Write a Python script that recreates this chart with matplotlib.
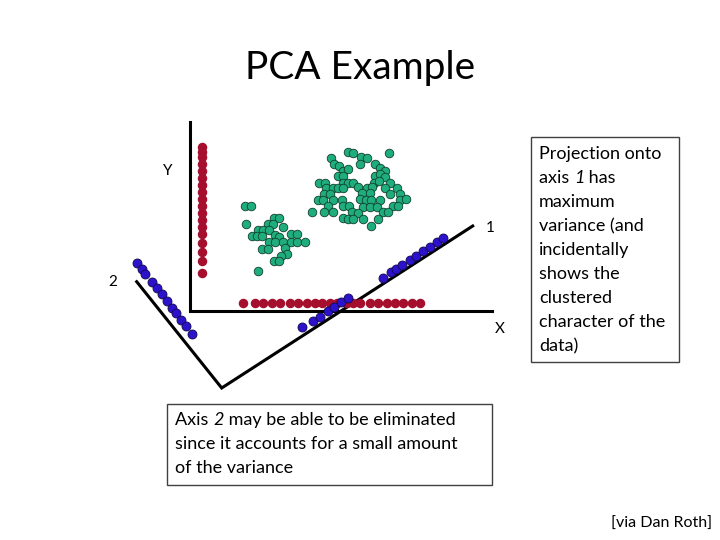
import matplotlib.pyplot as plt
from matplotlib.patches import Rectangle

plt.rcParams['font.family'] = ['Lato', 'DejaVu Sans']

# everything is placed in slide pixel coordinates (x right, y down)
greenX = [245, 250.7, 245.7, 274.3, 279.3, 268.3, 273.3, 257.7, 263.3, 269.3, 283.3,
          251.7, 256.7, 262.3, 275, 279.3, 290.7, 297.3, 269.3, 275, 283.3, 290.7,
          297.3, 305, 285, 262.3, 267.7, 286.7, 280.7, 274.3, 279.3, 257.7,
          348.3, 353.3, 389.3, 331, 361, 366.7, 334.3, 339.3, 360, 375, 343.3, 348.3,
          380, 385, 337.7, 343.3, 375, 380, 385, 319.3, 325, 342.7, 348.3, 353.3,
          374, 379.3, 390, 326, 332.7, 338.3, 343.3, 358.3, 366.7, 371.7, 385, 396.7,
          324, 330, 361.7, 370, 390, 400, 318.3, 323.3, 333.3, 341.7, 360, 366, 371,
          380, 400, 406, 328.3, 343.3, 349.3, 363.3, 370, 377.3, 393.3, 398.3, 311.7,
          324, 333.3, 351.7, 358.3, 382.7, 388.3, 343.3, 348.3, 353.3, 363.3, 378.3, 371]
greenY = [206, 206, 224, 218.3, 218.3, 224.3, 224, 230, 230, 230, 227.3,
          235.7, 235.7, 235.7, 235, 236.7, 234.3, 234.3, 242.3, 242.3, 242.3, 242.3,
          242.3, 242.3, 248.3, 249.3, 249.3, 254, 255.7, 261, 261, 271,
          151.7, 152.7, 152.7, 158.3, 156.7, 158.3, 164, 166, 164, 164, 170.7, 169.3,
          168.3, 170.7, 176, 176, 176, 174.3, 176.7, 182.7, 182.7, 182.7, 182.7, 182.7,
          182.7, 180.7, 182.7, 188.3, 188.3, 188.3, 188.3, 187.3, 188.3, 187.3, 188.3, 188.3,
          194, 194, 193.3, 193.3, 194, 194, 200, 200, 200, 200, 199.3, 200, 200,
          200, 200, 199.3, 206, 206, 206, 206.7, 206.7, 206.7, 206, 206, 211.7,
          211.7, 211.7, 211.7, 212.7, 211.7, 211.7, 217.7, 219.3, 219.3, 219.3, 219.3, 226]

# projections onto the original X and Y axes
redYvals = [147, 152, 157, 164, 171, 178, 185, 192, 199, 206, 213, 220, 227, 234,
            243, 252, 261, 273]
redXvals = [243.3, 255, 263.3, 271.7, 280, 290, 298.3, 306.7, 315, 321.7, 330, 336.7,
            346.7, 353.3, 360, 370, 378.3, 386.7, 395, 403.3, 411.7, 420]

# projections onto the principal axes 1 and 2
blue1X = [302.3, 312.7, 320, 327.7, 334.3, 341, 347.7,
          382.7, 390.7, 396, 402.3, 410, 415.7, 423.3, 430, 437.3, 443.3]
blue1Y = [327.3, 321, 316.7, 310.7, 307.3, 302.3, 298,
          277.7, 271.7, 269.3, 265, 260, 256, 251, 246.7, 242.3, 238.3]
blue2X = [136.7, 141.7, 145, 151.7, 156.7, 161.7, 166.7, 171.7, 176, 181, 186, 191.7]
blue2Y = [263.3, 269.3, 274, 281.7, 288.3, 294.3, 300.7, 307.7, 313.3, 320, 326, 334]

fig = plt.figure(figsize=(7.2, 5.4), dpi=100)
ax = fig.add_axes([0, 0, 1, 1])
ax.set_xlim(0, 720)
ax.set_ylim(540, 0)
ax.axis('off')
renderer = fig.canvas.get_renderer()


def richLine(x, y, parts, size=13):
    # parts: list of (text, italic) drawn one after another
    for txt, italic in parts:
        t = ax.text(x, y, txt, fontsize=size, ha='left', va='center',
                    style='italic' if italic else 'normal')
        bb = t.get_window_extent(renderer)
        x += bb.width * 720 / fig.bbox.width


# original axes
ax.plot([190, 190, 492], [122, 311, 311], color='black', lw=2.2, solid_joinstyle='miter')
# principal axes
ax.plot([136.7, 221.7, 472.7], [281.7, 388, 226], color='black', lw=2.2, solid_joinstyle='miter')

ax.scatter([202] * len(redYvals), redYvals, s=34, color='#a50f2d', zorder=3)
ax.scatter(redXvals, [303] * len(redXvals), s=34, color='#a50f2d', zorder=3)
ax.scatter(greenX, greenY, s=38, color='#1fad7e', edgecolors='#10402c', linewidths=0.6, zorder=3)
ax.scatter(blue1X, blue1Y, s=42, color='#2d12cc', edgecolors='#10084a', linewidths=0.6, zorder=3)
ax.scatter(blue2X, blue2Y, s=42, color='#2d12cc', edgecolors='#10084a', linewidths=0.6, zorder=3)

ax.text(360, 68, 'PCA Example', fontsize=28, ha='center', va='center')
ax.text(168, 171, 'Y', fontsize=11, ha='center', va='center')
ax.text(490, 228, '1', fontsize=11, ha='center', va='center')
ax.text(113, 282, '2', fontsize=11, ha='center', va='center')
ax.text(500, 329, 'X', fontsize=11, ha='center', va='center')

# right note
ax.add_patch(Rectangle((531, 137), 148, 225, fill=False, edgecolor='#404040', lw=1))
rightLines = [[('Projection onto', False)],
              [('axis ', False), ('1', True), (' has', False)],
              [('maximum', False)], [('variance (and', False)], [('incidentally', False)],
              [('shows the', False)], [('clustered', False)],
              [('character of the', False)], [('data)', False)]]
for i, parts in enumerate(rightLines):
    richLine(539, 154 + 24 * i, parts)

# bottom note
ax.add_patch(Rectangle((167, 404), 325, 81, fill=False, edgecolor='#404040', lw=1))
bottomLines = [[('Axis ', False), ('2', True), (' may be able to be eliminated', False)],
               [('since it accounts for a small amount', False)],
               [('of the variance', False)]]
for i, parts in enumerate(bottomLines):
    richLine(175, 420 + 24 * i, parts)

ax.text(712, 524, '[via Dan Roth]', fontsize=11.5, ha='right', va='center')

fig.savefig('out.png', dpi=100)
